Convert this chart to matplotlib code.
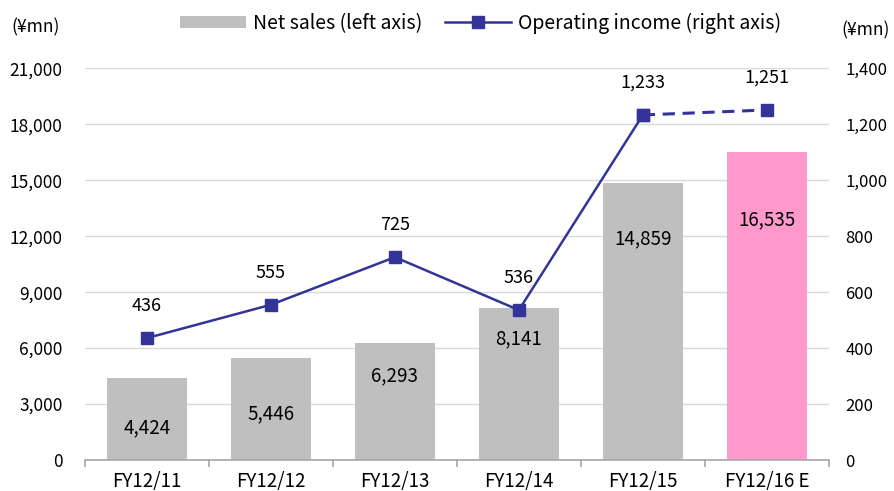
import numpy as np
import matplotlib
matplotlib.use("Agg")
import matplotlib.pyplot as plt
from matplotlib.patches import Patch
from matplotlib.lines import Line2D

plt.rcParams['font.family'] = ['Noto Sans CJK JP', 'DejaVu Sans']

# Data
categories = ['FY12/11', 'FY12/12', 'FY12/13', 'FY12/14', 'FY12/15', 'FY12/16 E']
net_sales = [4424, 5446, 6293, 8141, 14859, 16535]
op_income = [436, 555, 725, 536, 1233, 1251]

# Style
BarGray = '#BFBFBF'
BarPink = '#FF99CC'
LineBlue = '#333399'
GridGray = '#D9D9D9'
FontSize = 12.5

fig = plt.figure(figsize=(8.95, 4.91), dpi=100)
ax = fig.add_axes([0.095, 0.063, 0.831, 0.798])
ax2 = ax.twinx()

x = np.arange(len(categories))
colors = [BarGray] * (len(categories) - 1) + [BarPink]
ax.bar(x, net_sales, width=0.65, color=colors, zorder=2)

# bar labels sit inside the bars (offset below top, in points)
sales_offsets = [-36, -40, -24, -22, -40, -49]
for xi, v, off in zip(x, net_sales, sales_offsets):
    ax.annotate(f'{v:,}', (xi, v), xytext=(0, off), textcoords='offset points',
                ha='center', va='center', fontsize=13.5)

# operating income line: solid actuals, dashed forecast
ax2.plot(x[:-1], op_income[:-1], color=LineBlue, linewidth=1.8, marker='s',
         markersize=9, zorder=3)
ax2.plot(x[-2:], op_income[-2:], color=LineBlue, linewidth=2.2, linestyle='--',
         dashes=(4, 2.5), marker='s', markersize=9, zorder=3)
for xi, v in zip(x, op_income):
    ax2.annotate(f'{v:,}', (xi, v), xytext=(0, 23), textcoords='offset points',
                 ha='center', va='center', fontsize=13)

# axes
ax.set_xlim(-0.5, len(categories) - 0.5)
ax.set_ylim(0, 21000)
ax.set_yticks(np.arange(0, 21001, 3000))
ax.set_yticklabels([f'{t:,}' for t in np.arange(0, 21001, 3000)], fontsize=FontSize)
ax2.set_ylim(0, 1400)
ax2.set_yticks(np.arange(0, 1401, 200))
ax2.set_yticklabels([f'{t:,}' for t in np.arange(0, 1401, 200)], fontsize=12)

ax.set_xticks(x)
ax.set_xticklabels(categories, fontsize=13.5)
ax.set_xticks(np.arange(-0.5, len(categories)), minor=True)
ax.tick_params(axis='x', which='major', length=0, pad=8)
ax.tick_params(axis='x', which='minor', length=5, color='#A6A6A6', width=1.2)
ax.tick_params(axis='y', length=0, pad=16)
ax2.tick_params(axis='y', length=0, pad=12)

ax.yaxis.grid(True, color=GridGray, linewidth=1, zorder=0)
ax.set_axisbelow(True)
for a in (ax, ax2):
    for s in ('top', 'left', 'right', 'bottom'):
        a.spines[s].set_visible(False)
ax.spines['bottom'].set_visible(True)
ax.spines['bottom'].set_color('#A6A6A6')
ax.spines['bottom'].set_linewidth(1.2)

# unit labels
fig.text(0.013, 0.945, '(¥mn)', fontsize=12.5, ha='left', va='center')
fig.text(0.994, 0.938, '(¥mn)', fontsize=12.5, ha='right', va='center')

# legend
handles = [Patch(facecolor=BarGray, edgecolor='none'),
           Line2D([0], [0], color=LineBlue, linewidth=1.8, marker='s', markersize=8)]
fig.legend(handles, ['Net sales (left axis)', 'Operating income (right axis)'],
           loc='center', bbox_to_anchor=(0.537, 0.953), ncol=2, frameon=False,
           fontsize=14, handlelength=3.4, handleheight=0.55,
           columnspacing=1.2, handletextpad=0.35)

plt.savefig('out.png', dpi=100)
